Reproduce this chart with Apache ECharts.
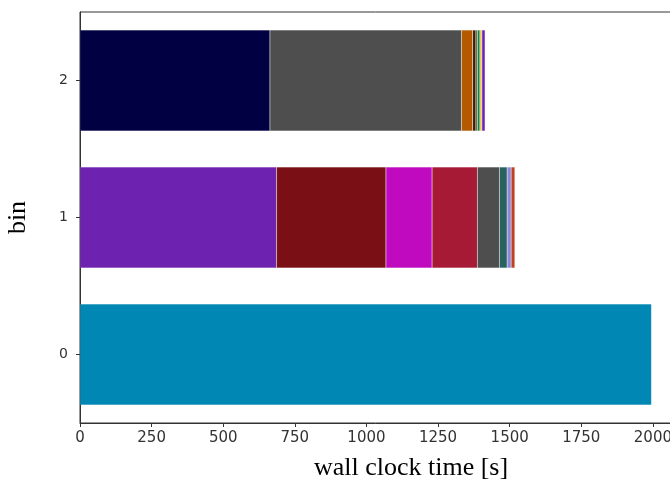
<!DOCTYPE html>
<html>
<head>
<meta charset="utf-8">
<script src="https://cdn.jsdelivr.net/npm/echarts@6/dist/echarts.min.js"></script>
<style>html,body{margin:0;padding:0;background:#fff}#c{width:670px;height:481px}</style>
</head>
<body>
<div id="c"></div>
<script>
// Categories (bins) and stacked segment durations [s]
var categories = ['0', '1', '2'];
var bin0Values = [1995];
var bin0Colors = ['#0087b3'];
var bin1Values = [686, 382, 161, 158, 77, 27, 14, 13];
var bin1Colors = ['#6e22b0', '#7a1016', '#bf0abf', '#a61a35', '#4e4e4e', '#2a6260', '#8888dd', '#c04020'];
var bin2Values = [663, 669, 39, 11, 5, 9, 7, 11];
var bin2Colors = ['#000042', '#4e4e4e', '#b35900', '#40200a', '#4a5a20', '#1a8040', '#e0c040', '#7020b0'];
var xTicks = [0, 250, 500, 750, 1000, 1250, 1500, 1750, 2000];

var bins = [
  {values: bin0Values, colors: bin0Colors},
  {values: bin1Values, colors: bin1Colors},
  {values: bin2Values, colors: bin2Colors}
];
var nSeg = Math.max(bin0Values.length, bin1Values.length, bin2Values.length);
var series = [];
for (var k = 0; k < nSeg; k++) {
  var data = bins.map(function (b) {
    if (k < b.values.length) {
      return {value: b.values[k], itemStyle: {color: b.colors[k]}};
    }
    return '-';
  });
  series.push({
    type: 'bar', stack: 'total', data: data, barWidth: 101,
    itemStyle: {borderColor: 'rgba(255,255,255,0.15)', borderWidth: 0.5},
    emphasis: {disabled: true}, animation: false
  });
}

var chart = echarts.init(document.getElementById('c'));
chart.setOption({
  animation: false,
  grid: {left: 80, top: 12, width: 662, bottom: 58, containLabel: false, outerBoundsMode: 'none',
         show: true, borderColor: '#333', borderWidth: 1},
  xAxis: {
    type: 'value', min: 0, max: 2311, interval: 250,
    name: 'wall clock time [s]', nameLocation: 'middle', nameGap: 32,
    nameTextStyle: {fontFamily: 'Liberation Serif', fontSize: 26, color: '#000'},
    axisLine: {show: true, lineStyle: {color: '#333', width: 1}},
    axisTick: {show: true, length: 4, lineStyle: {color: '#333'}},
    splitLine: {show: false},
    axisLabel: {
      fontFamily: 'DejaVu Sans', fontSize: 15, color: '#333', margin: 8,
      showMaxLabel: false,
      formatter: function (v) { return xTicks.indexOf(v) >= 0 ? String(v) : ''; }
    }
  },
  yAxis: {
    type: 'category', data: categories,
    name: 'bin', nameLocation: 'middle', nameGap: 49,
    nameTextStyle: {fontFamily: 'Liberation Serif', fontSize: 26, color: '#000'},
    axisLine: {show: true, lineStyle: {color: '#333', width: 1}},
    axisTick: {show: true, alignWithLabel: true, length: 4, lineStyle: {color: '#333'}},
    axisLabel: {fontFamily: 'DejaVu Sans', fontSize: 14, color: '#333', margin: 12}
  },
  series: series
});
</script>
</body>
</html>
